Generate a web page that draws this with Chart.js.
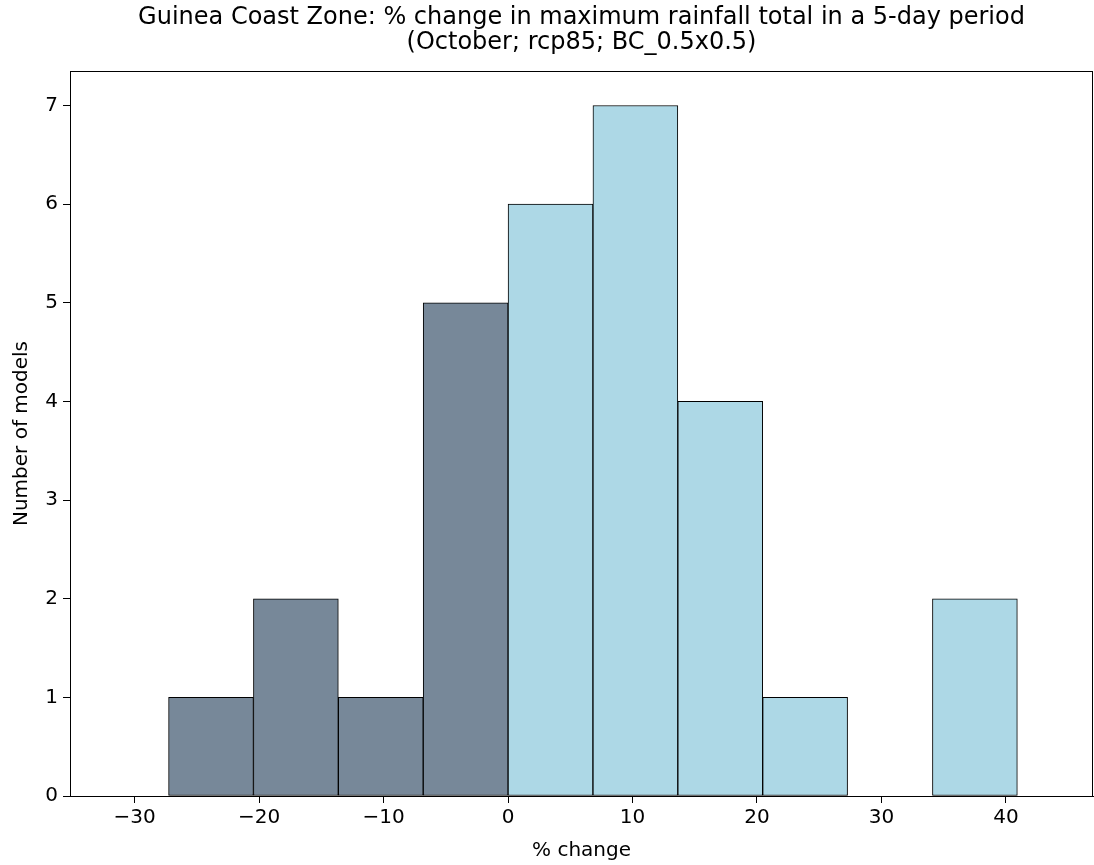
<!DOCTYPE html>
<html>
<head>
<meta charset="utf-8">
<script src="https://cdn.jsdelivr.net/npm/chart.js@4"></script>
<style>
  html, body { margin: 0; padding: 0; background: #fff; }
  canvas { display: block; }
</style>
</head>
<body>
<canvas id="chartHist" width="1094" height="865"></canvas>
<script>
// bin edges (% change) and number of models per bin
const binEdges = [-27.28, -20.46, -13.64, -6.82, 0, 6.82, 13.64, 20.46, 27.28, 34.1, 40.92];
const counts = [1, 2, 1, 5, 6, 7, 4, 1, 0, 2];
const xTicks = [-30, -20, -10, 0, 10, 20, 30, 40];
const yTicks = [0, 1, 2, 3, 4, 5, 6, 7];
const titleLines = [
  "Guinea Coast Zone: % change in maximum rainfall total in a 5-day period",
  "(October; rcp85; BC_0.5x0.5)"
];

const FONT = "'DejaVu Sans', sans-serif";

const puntos = counts.map((c, i) => ({ x: (binEdges[i] + binEdges[i + 1]) / 2, y: c }));
const colores = puntos.map(p => p.x < 0 ? "#778899" : "#ADD8E6");

// marco completo del área del gráfico (spines de arriba y derecha)
const marco = {
  id: "marco",
  afterDatasetsDraw(chart) {
    const { ctx, chartArea: a } = chart;
    ctx.save();
    ctx.strokeStyle = "#000";
    ctx.lineWidth = 1;
    ctx.strokeRect(a.left + 0.5, a.top + 0.5, a.right - a.left - 1, a.bottom - a.top);
    ctx.restore();
  }
};

new Chart(document.getElementById("chartHist"), {
  type: "bar",
  data: {
    datasets: [{
      data: puntos,
      backgroundColor: colores,
      borderColor: "#000",
      borderWidth: 1,
      borderSkipped: false,
      barPercentage: 1,
      categoryPercentage: 1
    }]
  },
  options: {
    responsive: false,
    animation: false,
    layout: { padding: { left: 0, right: 1, top: 0, bottom: 0 } },
    plugins: {
      legend: { display: false },
      tooltip: { enabled: false },
      title: {
        display: true,
        fullSize: false,
        text: titleLines,
        color: "#000",
        font: { family: FONT, size: 24, weight: "normal", lineHeight: 1.05 },
        padding: { top: 5, bottom: 15.6 }
      }
    },
    scales: {
      x: {
        type: "linear",
        offset: false,
        min: -35.2,
        max: 47.0,
        afterFit: s => { s.height = 69; },
        afterBuildTicks: s => { s.ticks = xTicks.map(v => ({ value: v })); },
        ticks: {
          includeBounds: false,
          color: "#000",
          padding: 3,
          maxRotation: 0,
          font: { family: FONT, size: 20 },
          callback: v => String(v).replace("-", "\u2212")
        },
        grid: { offset: false, drawOnChartArea: false, drawTicks: true, tickLength: 7, tickColor: "#000" },
        border: { display: true, color: "#000" },
        title: {
          display: true,
          text: "% change",
          color: "#000",
          font: { family: FONT, size: 20 },
          padding: { top: 0, bottom: 2 }
        }
      },
      y: {
        min: 0,
        max: 7.35,
        afterFit: s => { s.width = 70; },
        afterBuildTicks: s => { s.ticks = yTicks.map(v => ({ value: v })); },
        ticks: {
          includeBounds: false,
          color: "#000",
          padding: 5,
          font: { family: FONT, size: 20 }
        },
        grid: { drawOnChartArea: false, drawTicks: true, tickLength: 7, tickColor: "#000" },
        border: { display: true, color: "#000" },
        title: {
          display: true,
          text: "Number of models",
          color: "#000",
          font: { family: FONT, size: 20 },
          padding: { top: 10, bottom: 0 }
        }
      }
    }
  },
  plugins: [marco]
});
</script>
</body>
</html>
